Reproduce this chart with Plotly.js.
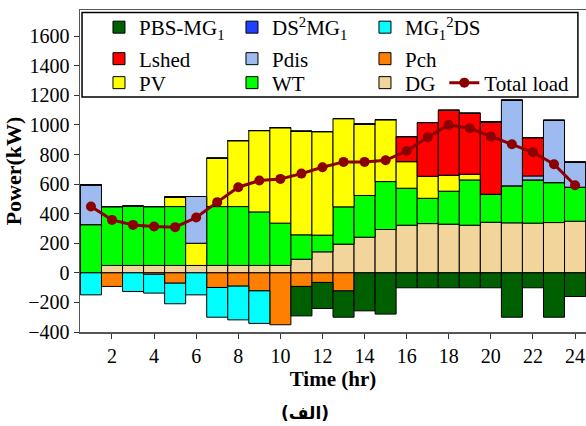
<!DOCTYPE html>
<html>
<head>
<meta charset="utf-8">
<script src="https://cdn.plot.ly/plotly-3.0.1.min.js"></script>
<style>html,body{margin:0;padding:0;background:#fff;}#chart{width:586px;height:426px;}</style>
</head>
<body>
<div id="chart"></div>
<script>
// ---- Data (kW), hours 1..24 ----
var hours = [1,2,3,4,5,6,7,8,9,10,11,12,13,14,15,16,17,18,19,20,21,22,23,24];
var DG     = [0,50,50,50,50,50,50,50,50,50,92,142,194,241,293,322,333,329,322,342,338,336,340,349];
var WT     = [326,398,400,398,398,0,398,398,362,286,165,113,252,282,324,250,171,223,306,189,250,292,270,230];
var PV     = [0,0,0,0,65,150,327,446,550,646,700,700,597,482,419,180,149,108,39,0,0,0,0,0];
var Pdis   = [269,0,0,0,0,316,0,0,0,0,0,0,0,0,0,0,0,0,0,0,579,27,421,169];
var Lshed  = [0,0,0,0,0,0,0,0,0,0,0,0,0,0,0,169,363,439,412,489,0,259,0,0];
var Pch    = [0,-92,0,-10,-70,0,-99,-90,-122,-351,-92,-65,-122,0,0,0,0,0,0,0,0,0,0,0];
var MG2DS  = [-149,0,-126,-127,-139,-149,-201,-228,-220,0,0,0,0,0,0,0,0,0,0,0,0,0,0,0];
var DS2MG  = [0,0,0,0,0,0,0,0,0,0,0,0,0,0,0,0,0,0,0,0,0,0,0,0];
var PBS    = [0,0,0,0,0,0,0,0,0,0,-199,-176,-178,-257,-279,-101,-101,-101,-101,-101,-300,-101,-300,-160];
var Load   = [448,358,324,313,309,374,478,579,624,635,671,714,750,750,761,824,917,1000,977,921,869,815,734,592];
var xTicks = [2,4,6,8,10,12,14,16,18,20,22,24];
var yTicks = [-400,-200,0,200,400,600,800,1000,1200,1400,1600];

var serif = 'Liberation Serif, Times New Roman, serif';
function barTrace(name, y, color, rank, leg) {
  return {type:'bar', name:name, x:hours, y:y, width:1, legendrank:rank, legend:leg,
    marker:{color:color, line:{color:'#000', width:1}}, hoverinfo:'x+y+name'};
}
var traces = [
  barTrace('DS<sup>2</sup>MG<sub>1</sub>', DS2MG, '#2040FF', 2, 'legend'),
  barTrace('DG', DG, '#F2D59B', 9, 'legend3'),
  barTrace('WT', WT, '#00FF00', 8, 'legend3'),
  barTrace('PV', PV, '#FFFF00', 7, 'legend3'),
  barTrace('Pdis', Pdis, '#9DBBF0', 5, 'legend2'),
  barTrace('Lshed', Lshed, '#FF0000', 4, 'legend2'),
  barTrace('Pch', Pch, '#FF8000', 6, 'legend2'),
  barTrace('MG<sub>1</sub><sup>2</sup>DS', MG2DS, '#00FFFF', 3, 'legend'),
  barTrace('PBS-MG<sub>1</sub>', PBS, '#005F00', 1, 'legend'),
  {type:'scatter', mode:'lines+markers', name:'Total load', x:hours, y:Load, legend:'legend4',
   line:{color:'#8B0000', width:3}, marker:{color:'#8B0000', size:10}}
];

function legRow(x, y) {
  return {orientation:'h', x:x, y:y, xanchor:'left', yanchor:'middle',
    entrywidth:88, itemwidth:30, bgcolor:'rgba(0,0,0,0)', borderwidth:0,
    font:{family:serif, size:21, color:'#000'}, traceorder:'normal'};
}

var layout = {
  width:586, height:426,
  margin:{l:80, r:0, t:10, b:94},
  paper_bgcolor:'#fff', plot_bgcolor:'#fff',
  barmode:'relative', bargap:0,
  font:{family:serif, size:20, color:'#000'},
  xaxis:{range:[0.48,24.52], tickvals:xTicks, ticks:'outside', ticklen:5, tickcolor:'#333',
    showline:true, linecolor:'#555', linewidth:1.5, mirror:true, showgrid:false, zeroline:false,
    tickfont:{family:serif, size:20},
    title:{text:'<b>Time (hr)</b>', font:{family:serif, size:21}, standoff:6}},
  yaxis:{range:[-400,1777], tickvals:yTicks, ticks:'outside', ticklen:5, tickcolor:'#333',
    showline:true, linecolor:'#555', linewidth:1.5, mirror:true, showgrid:false, zeroline:false,
    tickfont:{family:serif, size:20},
    title:{text:'<b>Power(kW)</b>', font:{family:serif, size:22}, standoff:0}},
  showlegend:true,
  legend:legRow(0.0375, 0.9456),
  legend2:legRow(0.0375, 0.8478),
  legend3:legRow(0.0375, 0.7733),
  legend4:legRow(0.72, 0.7733),
  shapes:[{type:'rect', xref:'paper', yref:'paper', x0:0.004, x1:0.984, y0:0.73, y1:0.992,
    line:{color:'#000', width:1.5}, fillcolor:'#fff', layer:'above'}],
  annotations:[{text:'<b>(الف)</b>', xref:'paper', yref:'paper', x:0.445, y:-0.2516, xanchor:'center', yanchor:'middle',
    showarrow:false, font:{family:'DejaVu Sans, sans-serif', size:17, color:'#000'}}]
};
Plotly.newPlot('chart', traces, layout, {displayModeBar:false, staticPlot:true});
</script>
</body>
</html>
